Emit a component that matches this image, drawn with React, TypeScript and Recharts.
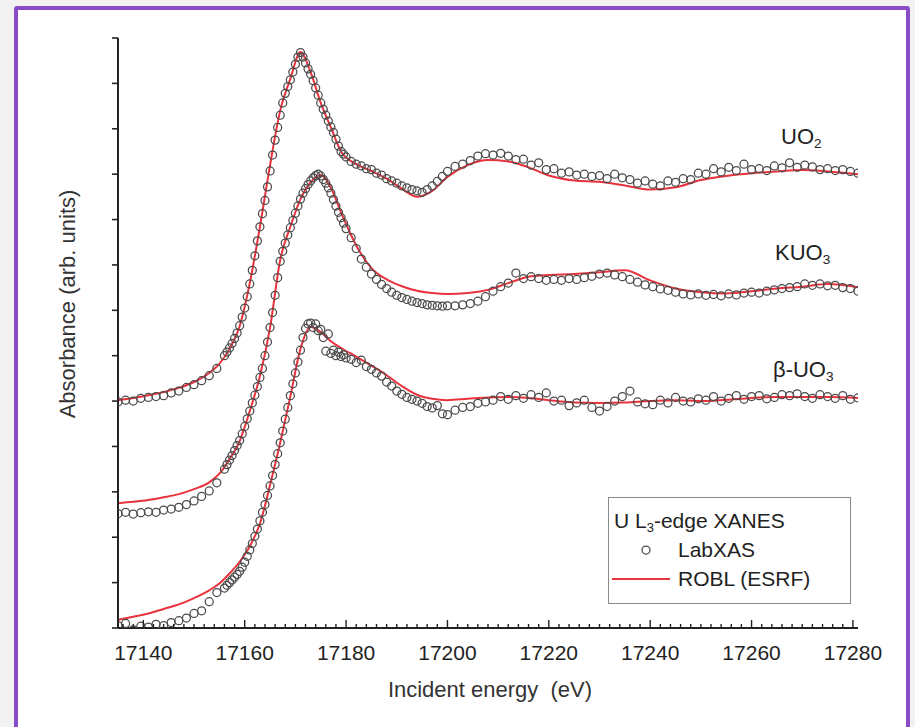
import React from "react";
import { ComposedChart, Scatter, Line, XAxis, YAxis } from "recharts";

// LabXAS measurement grid (eV): coarse pre-edge, fine edge, medium and coarse post-edge
const labEnergy = [
  17135, 17136.5, 17138, 17139.5, 17141, 17142.5, 17144, 17145.5, 17147, 17148.5, 17150, 17151.5, 17153, 17154.5,
  17156, 17156.5, 17157, 17157.5, 17158, 17158.5, 17159, 17159.5, 17160, 17160.5, 17161, 17161.5, 17162, 17162.5,
  17163, 17163.5, 17164, 17164.5, 17165, 17165.5, 17166, 17166.5, 17167, 17167.5, 17168, 17168.5, 17169, 17169.5,
  17170, 17170.5, 17171, 17171.5, 17172, 17172.5, 17173, 17173.5, 17174, 17174.5, 17175, 17175.5, 17176, 17176.5,
  17177, 17177.5, 17178, 17178.5, 17179, 17179.5, 17180,
  17181, 17182, 17183, 17184, 17185, 17186, 17187, 17188, 17189, 17190, 17191, 17192, 17193, 17194, 17195, 17196,
  17197, 17198, 17199, 17200,
  17201.5, 17203, 17204.5, 17206, 17207.5, 17209, 17210.5, 17212, 17213.5, 17215, 17216.5, 17218, 17219.5, 17221,
  17222.5, 17224, 17225.5, 17227, 17228.5, 17230, 17231.5, 17233, 17234.5, 17236, 17237.5, 17239, 17240.5, 17242,
  17243.5, 17245, 17246.5, 17248, 17249.5, 17251, 17252.5, 17254, 17255.5, 17257, 17258.5, 17260, 17261.5, 17263,
  17264.5, 17266, 17267.5, 17269, 17270.5, 17272, 17273.5, 17275, 17276.5, 17278, 17279.5, 17281,
];

// LabXAS spectra (stacked, arb. units)
const uo2Lab = [
  4.98, 5.02, 5.0, 5.06, 5.08, 5.1, 5.12, 5.18, 5.22, 5.3, 5.36, 5.45, 5.56, 5.72,
  6.0, 6.08, 6.17, 6.27, 6.38, 6.5, 6.66, 6.85, 7.05, 7.3, 7.58, 7.88, 8.2, 8.53, 8.84, 9.13, 9.42, 9.72, 10.07,
  10.42, 10.75, 11.03, 11.3, 11.57, 11.78, 11.93, 12.08, 12.25, 12.42, 12.58, 12.68, 12.58, 12.45, 12.32, 12.2,
  12.06, 11.9, 11.74, 11.57, 11.43, 11.3, 11.17, 11.04, 10.92, 10.77, 10.62, 10.5, 10.44, 10.38,
  10.28, 10.22, 10.18, 10.12, 10.1, 10.02, 9.98, 9.9, 9.85, 9.8, 9.74, 9.7, 9.66, 9.63, 9.6, 9.66, 9.74, 9.84,
  9.95, 10.06,
  10.17, 10.22, 10.3, 10.4, 10.45, 10.42, 10.46, 10.4, 10.32, 10.33, 10.2, 10.25, 10.1, 10.12, 10.02, 10.05,
  9.98, 10.0, 9.95, 9.97, 9.9, 10.0, 9.92, 9.88, 9.8, 9.85, 9.78, 9.74, 9.85, 9.82, 9.9, 9.88, 10.02, 10.0,
  10.12, 10.05, 10.15, 10.08, 10.22, 10.1, 10.12, 10.08, 10.18, 10.14, 10.25, 10.15, 10.2, 10.16, 10.1, 10.12,
  10.08, 10.1, 10.06, 10.02,
];

const kuo3Lab = [
  2.52, 2.55, 2.51, 2.54, 2.56, 2.55, 2.6, 2.62, 2.66, 2.72, 2.8, 2.9, 3.02, 3.2,
  3.5, 3.6, 3.7, 3.8, 3.91, 4.02, 4.13, 4.28, 4.44, 4.61, 4.78, 4.96, 5.13, 5.32, 5.52, 5.72, 6.0, 6.3, 6.62,
  6.95, 7.33, 7.72, 8.08, 8.3, 8.48, 8.66, 8.82, 8.98, 9.14, 9.3, 9.45, 9.58, 9.68, 9.77, 9.85, 9.92, 9.97,
  10.0, 9.96, 9.88, 9.8, 9.7, 9.58, 9.44, 9.3, 9.16, 9.04, 8.92, 8.8,
  8.6, 8.36, 8.13, 7.95, 7.8, 7.68, 7.57, 7.48, 7.4, 7.33, 7.28, 7.24, 7.2, 7.17, 7.15, 7.12, 7.11, 7.1, 7.09,
  7.1,
  7.1, 7.12, 7.15, 7.2, 7.3, 7.42, 7.52, 7.6, 7.82, 7.7, 7.74, 7.7, 7.66, 7.68, 7.66, 7.7, 7.68, 7.72, 7.75,
  7.8, 7.82, 7.78, 7.74, 7.68, 7.62, 7.56, 7.52, 7.47, 7.44, 7.4, 7.36, 7.34, 7.36, 7.33, 7.35, 7.32, 7.36,
  7.34, 7.38, 7.4, 7.38, 7.42, 7.45, 7.48, 7.5, 7.52, 7.58, 7.55, 7.58, 7.54, 7.55, 7.5, 7.48, 7.42,
];

const betaUo3Lab = [
  0.05, 0.1, -0.04, 0.04, 0.02, 0.08, 0.05, 0.12, 0.16, 0.22, 0.32, 0.38, 0.58, 0.78,
  0.88, 0.94, 1.0, 1.06, 1.12, 1.18, 1.25, 1.34, 1.45, 1.58, 1.72, 1.86, 2.02, 2.18, 2.36, 2.55, 2.72, 2.92,
  3.13, 3.36, 3.6, 3.84, 4.08, 4.34, 4.6, 4.86, 5.12, 5.38, 5.62, 5.86, 6.12, 6.4, 6.6, 6.7, 6.72, 6.62, 6.7,
  6.55, 6.58, 6.4, 6.1, 6.48, 6.05, 6.12, 6.0, 6.08, 5.98, 6.02, 5.95,
  5.92, 5.85, 5.9, 5.76, 5.7, 5.62, 5.55, 5.42, 5.33, 5.22, 5.15, 5.08, 5.04, 5.0, 4.95, 4.88, 4.85, 4.9, 4.72,
  4.7,
  4.8, 4.86, 4.88, 4.95, 4.98, 5.02, 5.1, 5.04, 5.12, 5.06, 5.14, 5.08, 5.18, 5.0, 5.02, 4.9, 4.96, 5.02, 4.86,
  4.78, 4.88, 5.0, 5.1, 5.22, 4.98, 4.94, 4.92, 5.02, 4.96, 5.08, 5.0, 4.98, 5.05, 5.02, 5.1, 5.0, 5.06, 5.12,
  5.04, 5.1, 5.12, 5.05, 5.08, 5.14, 5.12, 5.16, 5.1, 5.06, 5.14, 5.1, 5.06, 5.12, 5.04, 5.07,
];

// ROBL (ESRF) reference spectra
const roblEnergy = [
  17135, 17138, 17141, 17144, 17147, 17150, 17153, 17155, 17157, 17159, 17161, 17163, 17165, 17167, 17169,
  17171, 17173, 17175, 17177, 17179, 17182, 17185, 17188, 17191, 17194, 17197, 17200, 17204, 17208, 17212,
  17216, 17220, 17225, 17230, 17235, 17240, 17245, 17250, 17255, 17260, 17265, 17270, 17275, 17281,
];
const uo2Robl = [
  5.02, 5.07, 5.13, 5.2, 5.29, 5.42, 5.62, 5.82, 6.15, 6.65, 7.6, 8.84, 10.2, 11.4, 12.1, 12.69, 12.25, 11.57,
  11.03, 10.5, 10.22, 10.07, 9.9, 9.68, 9.5, 9.63, 9.94, 10.2, 10.31, 10.28, 10.15, 9.97, 9.86, 9.83, 9.75,
  9.66, 9.71, 9.87, 9.96, 10.02, 10.06, 10.09, 10.06, 10.0,
];
const kuo3Robl = [
  2.75, 2.78, 2.82, 2.88, 2.95, 3.06, 3.21, 3.4, 3.72, 4.12, 4.78, 5.55, 6.62, 8.11, 8.84, 9.45, 9.82, 9.98,
  9.7, 9.16, 8.43, 7.93, 7.68, 7.53, 7.43, 7.38, 7.36, 7.38, 7.45, 7.6, 7.74, 7.78, 7.8, 7.84, 7.88, 7.66,
  7.48, 7.4, 7.37, 7.42, 7.48, 7.52, 7.58, 7.51,
];
const betaUo3Robl = [
  0.18, 0.25, 0.32, 0.42, 0.52, 0.66, 0.83, 0.98, 1.2, 1.46, 1.8, 2.3, 3.15, 4.08, 5.1, 6.15, 6.63, 6.52,
  6.32, 6.17, 5.98, 5.78, 5.57, 5.33, 5.14, 5.05, 5.02, 5.05, 5.08, 5.09, 5.07, 5.02, 4.97, 4.96, 4.97, 5.0,
  5.02, 5.0, 5.03, 5.07, 5.09, 5.09, 5.09, 5.07,
];

const majorTicks = [17140, 17160, 17180, 17200, 17220, 17240, 17260, 17280];
const yTicks = [0, 1, 2, 3, 4, 5, 6, 7, 8, 9, 10, 11, 12, 13];

const energyTicks: number[] = [];
for (let e = 17136; e <= 17280; e += 2) energyTicks.push(e);

const toPoints = (xs: number[], ys: number[]) =>
  ys.map((a, i) => ({ e: xs[i], a })).filter((p) => p.e !== undefined);

const FONT = "'Liberation Sans', Arial, Helvetica, sans-serif";
const INK = "#222";
const RED = "#e8323c";
const CIRCLE = "#4a4a4a";

// inward ticks on the energy axis, long ones carry the label
const EnergyTick = (props: any) => {
  const { x, y, payload } = props;
  const major = majorTicks.includes(payload.value);
  return (
    <g>
      <line x1={x} x2={x} y1={y} y2={y - (major ? 8 : 4)} stroke={INK} strokeWidth={1.4} />
      {major && (
        <text x={x} y={y + 32} textAnchor="middle" fontFamily={FONT} fontSize={21} fill={INK}>
          {payload.value}
        </text>
      )}
    </g>
  );
};

const NoLabel = () => <g />;

const Ring = (p: any) => (
  <circle cx={p.cx} cy={p.cy} r={4} fill="none" stroke={CIRCLE} strokeWidth={1.25} />
);

const sub: React.CSSProperties = { fontSize: "0.62em", verticalAlign: "-0.3em", lineHeight: 0 };

const SeriesLabel = ({ left, top, children }: { left: number; top: number; children: React.ReactNode }) => (
  <div style={{ position: "absolute", left, top, fontFamily: FONT, fontSize: 22, color: INK, lineHeight: "26px", whiteSpace: "nowrap" }}>
    {children}
  </div>
);

export default function App() {
  const series = [
    { lab: toPoints(labEnergy, uo2Lab), ref: toPoints(roblEnergy, uo2Robl) },
    { lab: toPoints(labEnergy, kuo3Lab), ref: toPoints(roblEnergy, kuo3Robl) },
    { lab: toPoints(labEnergy, betaUo3Lab), ref: toPoints(roblEnergy, betaUo3Robl) },
  ];

  return (
    <div style={{ position: "fixed", left: 0, top: 0, width: 915, height: 727, background: "#f2f2f3", overflow: "hidden" }}>
      <div
        style={{
          position: "absolute", left: 14, top: 6, width: 896, height: 740,
          border: "4px solid #8a4cc6", borderRadius: 3, background: "#fff", boxSizing: "border-box",
        }}
      />
      <div style={{ position: "absolute", left: 0, top: 0 }}>
        <ComposedChart width={915} height={727} margin={{ top: 38, right: 57, bottom: 97, left: 116 }}>
          <XAxis
            type="number"
            dataKey="e"
            domain={[17135, 17281]}
            ticks={energyTicks}
            interval={0}
            height={2}
            tickSize={0}
            tickMargin={0}
            tickLine={false}
            tick={<EnergyTick />}
            axisLine={{ stroke: INK, strokeWidth: 2 }}
            allowDataOverflow
          />
          <YAxis
            type="number"
            dataKey="a"
            domain={[0, 13]}
            ticks={yTicks}
            interval={0}
            width={2}
            tickSize={6}
            tick={<NoLabel />}
            tickLine={{ stroke: INK, strokeWidth: 1.6 }}
            axisLine={{ stroke: INK, strokeWidth: 2 }}
            allowDataOverflow
          />
          {series.map((s, i) => (
            <Scatter key={`lab-${i}`} data={s.lab} dataKey="a" shape={Ring} isAnimationActive={false} />
          ))}
          {series.map((s, i) => (
            <Line
              key={`ref-${i}`}
              data={s.ref}
              dataKey="a"
              type="monotone"
              stroke={RED}
              strokeWidth={2}
              dot={false}
              activeDot={false}
              isAnimationActive={false}
            />
          ))}
        </ComposedChart>
      </div>

      <SeriesLabel left={781} top={124}>
        UO<span style={sub}>2</span>
      </SeriesLabel>
      <SeriesLabel left={775} top={240}>
        KUO<span style={sub}>3</span>
      </SeriesLabel>
      <SeriesLabel left={773} top={357}>
        β-UO<span style={sub}>3</span>
      </SeriesLabel>

      <div
        style={{
          position: "absolute", left: 68, top: 304, transform: "translate(-50%, -50%) rotate(-90deg)",
          fontFamily: FONT, fontSize: 22, color: "#333", whiteSpace: "nowrap",
        }}
      >
        Absorbance (arb. units)
      </div>
      <div
        style={{
          position: "absolute", left: 490, top: 690, transform: "translate(-50%, -50%)",
          fontFamily: FONT, fontSize: 22, color: "#333", whiteSpace: "pre",
        }}
      >
        Incident energy  (eV)
      </div>

      <div
        style={{
          position: "absolute", left: 608, top: 497, width: 243, height: 107, boxSizing: "border-box",
          border: "1.5px solid #8a8a8a", background: "#fff", fontFamily: FONT, fontSize: 21, color: INK,
          lineHeight: "29px", padding: "8px 0 0 5px",
        }}
      >
        <div>
          U L<span style={sub}>3</span>-edge XANES
        </div>
        <div style={{ display: "flex", alignItems: "center" }}>
          <svg width={66} height={20} style={{ marginLeft: -2 }}>
            <circle cx={34} cy={10} r={4} fill="none" stroke={CIRCLE} strokeWidth={1.25} />
          </svg>
          LabXAS
        </div>
        <div style={{ display: "flex", alignItems: "center" }}>
          <svg width={66} height={20} style={{ marginLeft: -2 }}>
            <line x1={0} x2={58} y1={10} y2={10} stroke={RED} strokeWidth={2} />
          </svg>
          ROBL (ESRF)
        </div>
      </div>
    </div>
  );
}
